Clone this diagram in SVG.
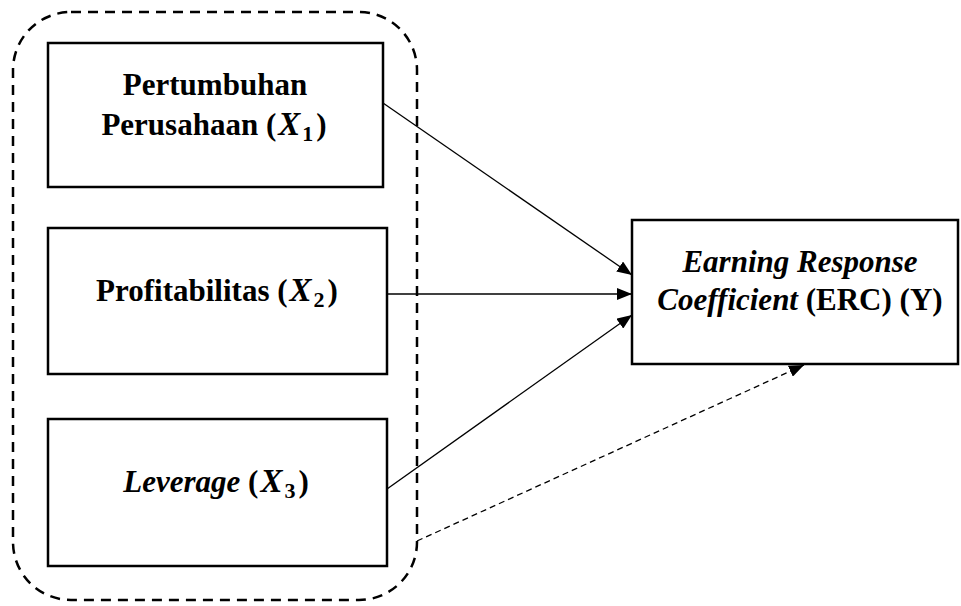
<svg xmlns="http://www.w3.org/2000/svg" width="961" height="606" viewBox="0 0 961 606">
<style>
.box{fill:#fff;stroke:#000;stroke-width:2.5}
.t{font-family:"Liberation Serif","Times New Roman",serif;font-size:31px;font-weight:bold;fill:#000;text-anchor:middle}
.i{font-style:italic}
.mx{font-style:italic;font-size:33px}
.sub{font-size:22px;font-style:normal}
.conn{stroke:#000;stroke-width:1.3;fill:none}
.dash{stroke-dasharray:6,4}
</style>
<defs>
<marker id="ah" viewBox="0 0 15 12" refX="15" refY="6" markerWidth="15" markerHeight="12" markerUnits="userSpaceOnUse" orient="auto">
<path d="M0,0 L15,6 L0,12 Z" fill="#000"/>
</marker>
</defs>
<rect id="group-outline" x="13" y="12" width="404" height="588" rx="58" ry="58" fill="none" stroke="#000" stroke-width="2.5" stroke-dasharray="10,7"/>
<g id="connectors">
<line class="conn" x1="383" y1="103" x2="632" y2="275" marker-end="url(#ah)"/>
<line class="conn" x1="387" y1="294" x2="632" y2="294" marker-end="url(#ah)"/>
<line class="conn" x1="387" y1="489" x2="632" y2="315" marker-end="url(#ah)"/>
<line class="conn dash" x1="417" y1="541" x2="804" y2="365" marker-end="url(#ah)"/>
</g>
<g id="node-x1">
<rect class="box" x="48" y="43" width="335" height="144"/>
<text class="t" x="215" y="95">Pertumbuhan</text>
<text class="t" x="214" y="135">Perusahaan (<tspan class="mx" dx="2">X</tspan><tspan class="sub" dx="2" dy="6">1</tspan><tspan dx="3" dy="-6">)</tspan></text>
</g>
<g id="node-x2">
<rect class="box" x="48" y="228" width="339" height="146"/>
<text class="t" x="217" y="301">Profitabilitas (<tspan class="mx" dx="2">X</tspan><tspan class="sub" dx="2" dy="6">2</tspan><tspan dx="3" dy="-6">)</tspan></text>
</g>
<g id="node-x3">
<rect class="box" x="48" y="419" width="339" height="147"/>
<text class="t" x="216" y="492"><tspan class="i">Leverage</tspan> (<tspan class="mx" dx="2">X</tspan><tspan class="sub" dx="2" dy="6">3</tspan><tspan dx="3" dy="-6">)</tspan></text>
</g>
<g id="node-y">
<rect class="box" x="632" y="220" width="326" height="144"/>
<text class="t i" x="800" y="272">Earning Response</text>
<text class="t" x="800" y="310"><tspan class="i">Coefficient</tspan> (ERC) (Y)</text>
</g>
</svg>
